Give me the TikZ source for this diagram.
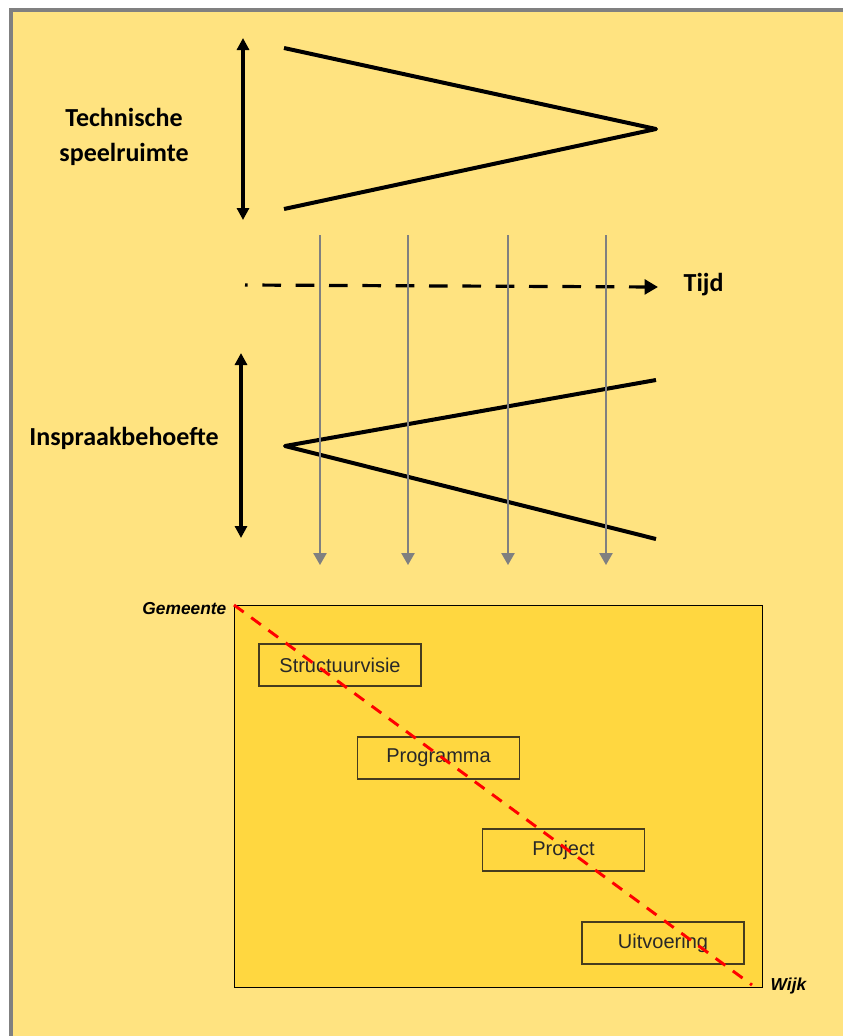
\documentclass[tikz,border=0pt]{standalone}
\usepackage{fontspec}
\setmainfont{Carlito}
\newfontfamily\arialfont{Liberation Sans}
\usetikzlibrary{arrows.meta}
\definecolor{bgyellow}{RGB}{255,227,128}
\definecolor{boxyellow}{RGB}{255,215,64}
\definecolor{framegray}{RGB}{128,128,128}
\definecolor{edgeolive}{RGB}{70,60,30}
\definecolor{textdark}{RGB}{40,40,40}
\tikzset{
  thickline/.style={line width=3pt, black},
  dblarrow/.style={line width=2.4pt, black, {Triangle[length=9pt,width=9pt]}-{Triangle[length=9pt,width=9pt]}},
  grayarrow/.style={line width=1.1pt, framegray, -{Triangle[length=9pt,width=10pt]}},
  boldlabel/.style={font=\fontsize{19.5}{26}\selectfont\bfseries, text=black, align=center},
  stagebox/.style={draw=edgeolive, line width=1.2pt, fill=boxyellow, minimum width=121.5pt, minimum height=31.5pt, inner sep=0pt, font=\arialfont\fontsize{15}{18}\selectfont, text=textdark},
  corner/.style={font=\arialfont\fontsize{13}{15}\selectfont\bfseries\itshape, text=black}
}
\begin{document}
\begin{tikzpicture}[x=0.75pt,y=-0.75pt]
\useasboundingbox (0,0) rectangle (843,1036);
\fill[white] (0,0) rectangle (843,1036);
\draw[framegray, line width=3pt, fill=bgyellow] (11,10) rectangle (860,1060);

% top triangle
\coordinate (t1) at (284,48);
\coordinate (t2) at (284,209);
\coordinate (tapex) at (656,129);
\draw[thickline, line join=round] (t1) -- (tapex) -- (t2);
\coordinate (ta) at (243,38);
\coordinate (tb) at (243,220);
\draw[dblarrow] (ta) -- (tb);
\node[boldlabel] (tech) at (124,137) {Technische\\speelruimte};

% time axis
\coordinate (d0) at (245,285);
\coordinate (d1) at (658,287);
\draw[line width=2.4pt, dash pattern=on 14pt off 11pt, dash phase=12pt, -{Triangle[length=10pt,width=11pt]}] (d0) -- (d1);
\node[boldlabel, anchor=west] (tijd) at (679,285) {Tijd};

% bottom triangle
\coordinate (bapex) at (285,446);
\coordinate (b1) at (656,380);
\coordinate (b2) at (656,539);
\draw[thickline, line join=round] (b1) -- (bapex) -- (b2);
\coordinate (ba) at (241,353);
\coordinate (bb) at (241,538);
\draw[dblarrow] (ba) -- (bb);
\node[boldlabel] (insp) at (124,438) {Inspraakbehoefte};

% gray arrows
\foreach \x [count=\i] in {320,408,508,606}{
  \coordinate (g\i s) at (\x,235);
  \coordinate (g\i e) at (\x,565);
  \draw[grayarrow] (g\i s) -- (g\i e);
}

% inner box
\node[draw=black, line width=1.1pt, fill=boxyellow, minimum width=396pt, minimum height=286.5pt, inner sep=0pt, anchor=north west] (panel) at (234,605) {};
\node[stagebox] (s1) at (340,665) {Structuurvisie};
\node[stagebox] (s2) at (438.5,758) {Programma};
\node[stagebox] (s3) at (563.5,850) {Project};
\node[stagebox] (s4) at (663,943) {Uitvoering};
\coordinate (rd1) at (234,605);
\coordinate (rd2) at (752,985);
\draw[red, line width=2.2pt, dash pattern=on 9pt off 7pt] (rd1) -- (rd2);
\node[corner, anchor=east] (gem) at (231,609) {Gemeente};
\node[corner, anchor=west] (wijk) at (766,986) {Wijk};
\end{tikzpicture}
\end{document}
